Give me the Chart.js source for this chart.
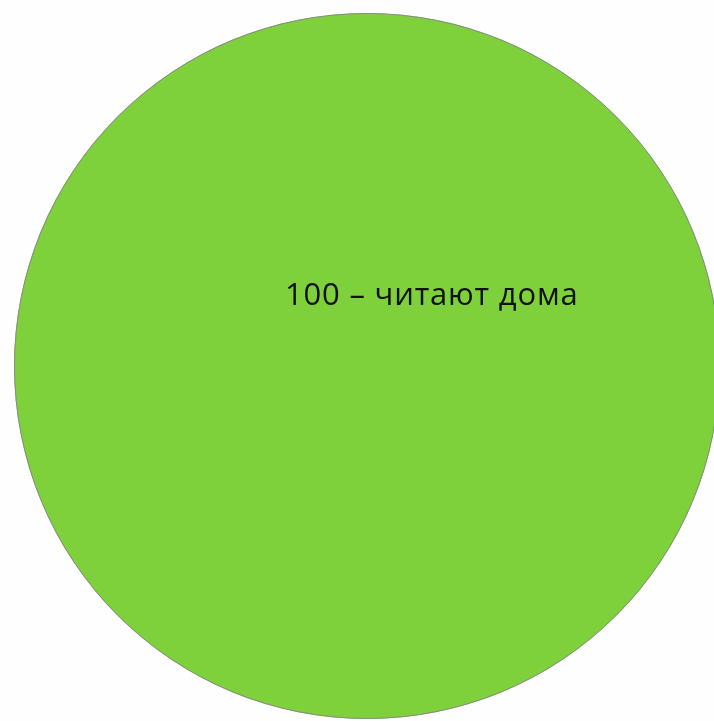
<!DOCTYPE html>
<html>
<head>
<meta charset="utf-8">
<script src="https://cdn.jsdelivr.net/npm/chart.js@4"></script>
<style>
    html, body { margin: 0; padding: 0; background: #fefefe; overflow: hidden; width: 714px; height: 721px; }
    #wrap { position: absolute; left: 14px; top: 13px; width: 706px; height: 706px; }
</style>
</head>
<body>
<div id="wrap"><canvas id="pieChart"></canvas></div>
<script>
let categories = ['читают дома'];
let values = [100];
let sliceColors = ['#7fd13b'];

// outline of the whole pie (no seam) and the data label
let labelPlugin = {
    id: 'sliceLabel',
    afterDatasetsDraw(chart) {
        let arc = chart.getDatasetMeta(0).data[0];
        let ctx = chart.ctx;
        ctx.save();
        ctx.strokeStyle = '#8a8a8a';
        ctx.lineWidth = 1;
        ctx.beginPath();
        ctx.arc(arc.x, arc.y, arc.outerRadius - 0.5, 0, Math.PI * 2);
        ctx.stroke();

        ctx.font = '31px "Open Sans"';
        ctx.letterSpacing = '0.8px';
        ctx.fillStyle = '#111';
        ctx.textAlign = 'left';
        ctx.textBaseline = 'middle';
        ctx.fillText(values[0] + ' – ' + categories[0], arc.x - 82, arc.y - 70);
        ctx.restore();
    }
};

let ctx = document.getElementById('pieChart').getContext('2d');
new Chart(ctx, {
    type: 'pie',
    data: {
        labels: categories,
        datasets: [{
            data: values,
            backgroundColor: sliceColors,
            borderWidth: 0
        }]
    },
    options: {
        animation: false,
        responsive: true,
        maintainAspectRatio: false,
        layout: { padding: 0 },
        plugins: {
            legend: { display: false },
            tooltip: { enabled: false }
        }
    },
    plugins: [labelPlugin]
});
</script>
</body>
</html>
